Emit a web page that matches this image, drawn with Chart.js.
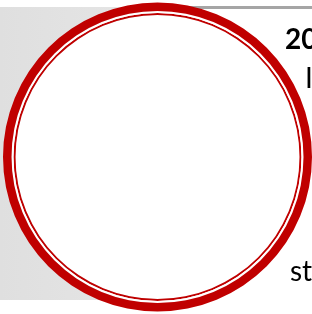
<!DOCTYPE html>
<html lang="es">
<head>
    <meta charset="UTF-8">
    <title>Anillo</title>
    <script src="https://cdn.jsdelivr.net/npm/chart.js"></script>
    <style>
        body {
            margin: 0;
            width: 312px;
            height: 314px;
            position: relative;
            overflow: hidden;
            background: #ffffff;
            font-family: Lato, "Open Sans", sans-serif;
        }

        #panel {
            position: absolute;
            left: 0;
            top: 7px;
            width: 160px;
            height: 293px;
            background: linear-gradient(to right, #dfdfdf, #e6e6e6);
        }

        #linea {
            position: absolute;
            left: 160px;
            top: 6px;
            width: 152px;
            height: 3px;
            background: #a5a5a5;
        }

        #caja {
            position: absolute;
            left: 3px;
            top: 2px;
            width: 309px;
            height: 310px;
        }

        .txt {
            position: absolute;
            white-space: nowrap;
            color: #000;
            font-size: 28px;
            line-height: 1;
        }
    </style>
</head>
<body>
    <div id="panel"></div>
    <div id="linea"></div>
    <div id="caja"><canvas id="myChart"></canvas></div>
    <div class="txt" style="left:285px; top:24px; font-weight:bold;">20</div>
    <div class="txt" style="left:305px; top:63px;">I</div>
    <div class="txt" style="left:290px; top:256px;">st</div>

    <script>
        // Datos: un único anillo completo
        const etiquetas = ["Total"];
        const valores = [100];

        // grosor relativo de cada anillo (exterior -> interior)
        const grosores = [8.5, 2, 2, 142];
        const colores = ["#c00000", "#ffffff", "#c00000", "#ffffff"];

        const ctx = document.getElementById("myChart").getContext("2d");

        new Chart(ctx, {
            type: "doughnut",
            data: {
                labels: etiquetas,
                datasets: grosores.map((g, i) => ({
                    data: valores,
                    backgroundColor: colores[i],
                    borderWidth: 0,
                    hoverOffset: 0,
                    offset: 0,
                    weight: g
                }))
            },
            options: {
                responsive: true,
                maintainAspectRatio: false,
                animation: false,
                cutout: 0,
                layout: { padding: 0 },
                plugins: {
                    legend: { display: false },
                    tooltip: { enabled: false }
                }
            }
        });
    </script>
</body>
</html>
